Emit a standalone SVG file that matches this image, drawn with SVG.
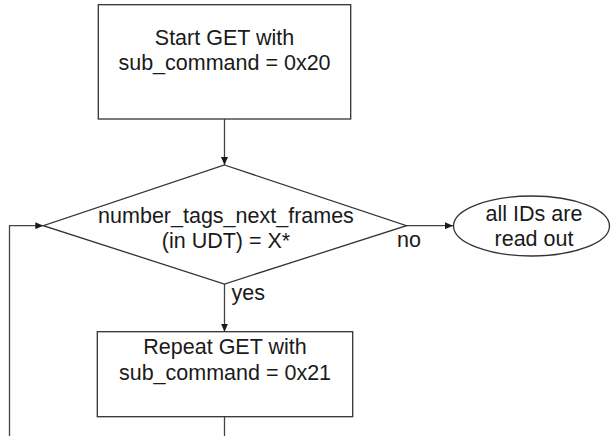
<svg xmlns="http://www.w3.org/2000/svg" width="611" height="436" viewBox="0 0 611 436">
  <style>
    .shape { fill: #ffffff; stroke: #333333; stroke-width: 1.3; }
    .edge { fill: none; stroke: #444444; stroke-width: 1.3; }
    .label { font-family: "Liberation Sans", Arial, sans-serif; font-size: 21.5px; fill: #1a1a1a; text-anchor: middle; }
    .note { font-family: "Liberation Sans", Arial, sans-serif; font-size: 21.5px; fill: #1a1a1a; text-anchor: start; }
  </style>
  <defs>
    <marker id="arrow" viewBox="0 0 8 7" refX="8" refY="3.5" markerWidth="8" markerHeight="7" markerUnits="userSpaceOnUse" orient="auto">
      <path d="M0,0 L8,3.5 L0,7 Z" fill="#1a1a1a"/>
    </marker>
  </defs>
  <rect width="611" height="436" fill="#ffffff"/>

  <g id="connectors">
    <path class="edge" d="M224.5,119 V165" marker-end="url(#arrow)"/>
    <path class="edge" d="M406.5,225.7 H453" marker-end="url(#arrow)"/>
    <path class="edge" d="M224.5,284 V331.7" marker-end="url(#arrow)"/>
    <path class="edge" d="M224.5,416.7 V436"/>
    <path class="edge" d="M9.5,436 V225.7 H43.3" marker-end="url(#arrow)"/>
    <text class="note" x="397" y="247">no</text>
    <text class="note" x="231.5" y="300">yes</text>
  </g>

  <g id="start">
    <rect class="shape" x="98.3" y="4.7" width="252.4" height="114.3"/>
    <text class="label" x="224.5" y="45">Start GET with</text>
    <text class="label" x="224.5" y="70">sub_command = 0x20</text>
  </g>

  <g id="decision">
    <polygon class="shape" points="224.5,165 406.5,225.7 224.5,284 43.3,225.7"/>
    <text class="label" x="226" y="223.3">number_tags_next_frames</text>
    <text class="label" x="226" y="248">(in UDT) = X*</text>
  </g>

  <g id="done">
    <ellipse class="shape" cx="531.5" cy="226" rx="78" ry="30"/>
    <text class="label" x="534" y="221">all IDs are</text>
    <text class="label" x="534" y="245.7">read out</text>
  </g>

  <g id="repeat">
    <rect class="shape" x="97.3" y="331.7" width="255.4" height="85"/>
    <text class="label" x="225" y="354">Repeat GET with</text>
    <text class="label" x="225" y="380">sub_command = 0x21</text>
  </g>
</svg>
